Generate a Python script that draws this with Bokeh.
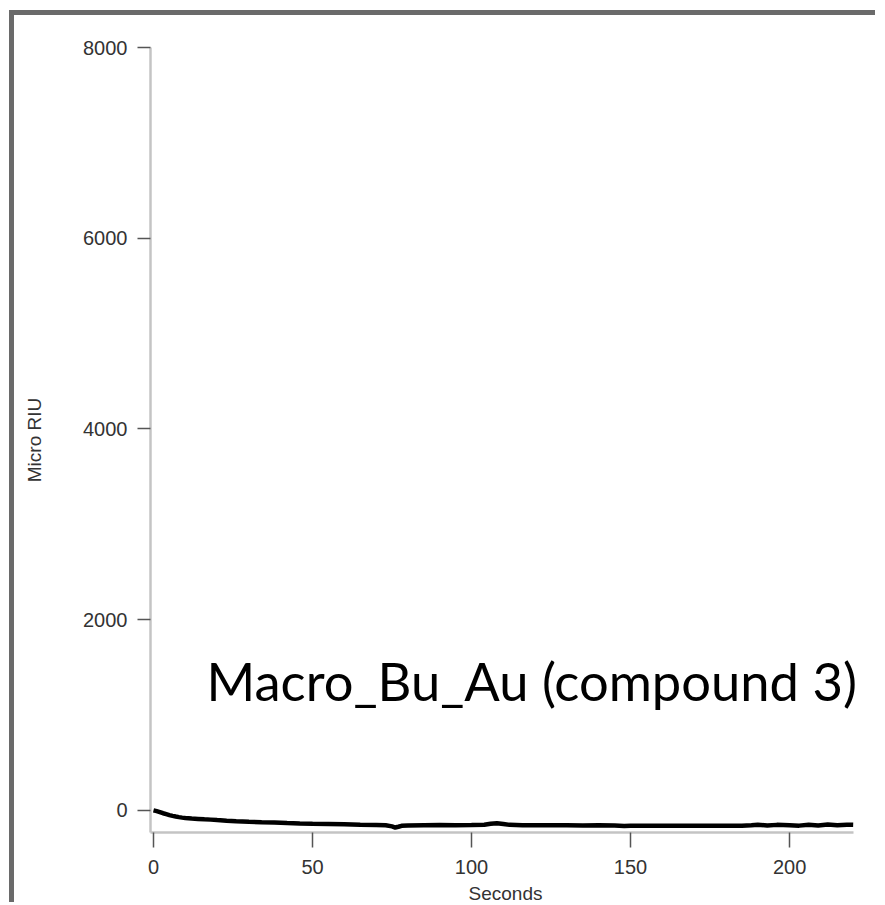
from bokeh.plotting import figure
from bokeh.models import Label, FixedTicker, Range1d
from bokeh.embed import file_html
from bokeh.resources import INLINE

seconds = [0, 1, 2, 3, 4, 5, 6, 7, 8, 9, 10, 12, 14, 16, 18, 20, 23, 26, 30, 34,
           38, 42, 46, 50, 55, 60, 65, 70, 73, 75, 76, 77, 78, 80, 85, 90, 95, 100,
           104, 106, 108, 110, 112, 116, 120, 125, 130, 135, 140, 145, 148, 150,
           155, 160, 165, 170, 175, 180, 185, 188, 190, 193, 196, 200, 203, 206,
           209, 212, 215, 218, 220]
micro_riu = [0, -8, -18, -30, -40, -50, -58, -65, -71, -76, -80, -86, -90, -94, -97,
             -102, -108, -113, -119, -124, -128, -133, -137, -140, -143, -146, -150,
             -153, -156, -168, -180, -172, -162, -158, -156, -154, -155, -153, -150,
             -140, -135, -142, -152, -155, -156, -157, -156, -158, -157, -159, -165,
             -160, -160, -161, -160, -161, -160, -160, -160, -155, -150, -158, -152,
             -155, -160, -150, -158, -148, -155, -150, -152]

x_ticks = [0, 50, 100, 150, 200]
y_ticks = [0, 2000, 4000, 6000, 8000]
annotation = "Macro_Bu_Au (compound 3)"

p = figure(width=866, height=892, output_backend="svg", toolbar_location=None,
           x_range=Range1d(-0.94, 222.3), y_range=Range1d(-232, 8000),
           min_border_left=136, min_border_right=20, min_border_top=32,
           min_border_bottom=75)
p.margin = (10, 0, 0, 9)
p.styles = {"border-left": "5px solid #6a6a6a", "border-top": "5px solid #6a6a6a"}
p.outline_line_color = None
p.grid.grid_line_color = None
p.background_fill_color = "white"
p.border_fill_color = "white"

p.line(seconds, micro_riu, line_color="black", line_width=4.5)

for ax, ticks in ((p.xaxis[0], x_ticks), (p.yaxis[0], y_ticks)):
    ax.ticker = FixedTicker(ticks=ticks)
    ax.axis_line_color = "#c4c4c4"
    ax.axis_line_width = 2.5
    ax.major_tick_line_color = "#555555"
    ax.major_tick_line_width = 1.5
    ax.major_tick_in = 0
    ax.minor_tick_line_color = None
    ax.major_label_text_font = "Liberation Sans"
    ax.major_label_text_font_size = "20px"
    ax.major_label_text_color = "#333333"
    ax.axis_label_text_font = "Liberation Sans"
    ax.axis_label_text_font_size = "19px"
    ax.axis_label_text_font_style = "normal"
    ax.axis_label_text_color = "#333333"

p.xaxis.bounds = (-0.94, 220.1)
p.xaxis.major_tick_out = 15
p.yaxis.major_tick_out = 13
p.xaxis.major_label_standoff = 12
p.yaxis.major_label_standoff = 10
p.xaxis.axis_label = "Seconds"
p.yaxis.axis_label = "Micro RIU"
p.xaxis.axis_label_standoff = 6
p.yaxis.axis_label_standoff = 35

p.add_layout(Label(x=16.67, y=1357, text=annotation, text_font="Lato",
                   text_font_size="52.5px", text_color="black",
                   text_baseline="alphabetic"))

open("out.html", "w").write(file_html(p, INLINE))
